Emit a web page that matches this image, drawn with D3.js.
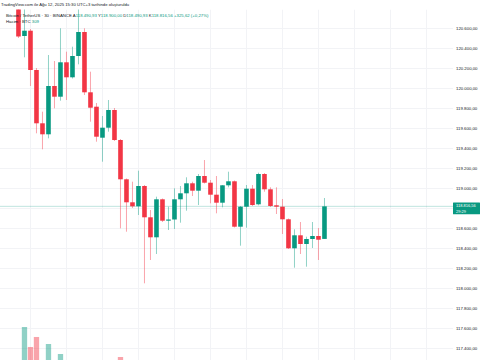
<!DOCTYPE html>
<html><head><meta charset="utf-8">
<script src="https://cdn.jsdelivr.net/npm/d3@7"></script>
<style>html,body{margin:0;padding:0;background:#fff;}svg{display:block;font-family:"Liberation Sans",Arial,sans-serif;}</style>
</head><body><svg id="c" width="485" height="360"></svg>
<script>
const opens  = [120880,120520,120573,120180,119647,119537,120020,119913,120257,120107,120320,120560,119957,119813,119503,119603,119780,119480,119087,118857,118817,119020,118707,118507,118887,118673,118685,118887,118947,119047,118973,119120,119053,118933,118853,119027,119067,118613,118813,118993,118837,119140,118987,118827,118813,118687,118397,118527,118440,118490,118520,118490.93];
const highs  = [120950,120830,120590,120200,119763,120330,120270,120597,120363,120413,120850,120597,120163,119850,119720,119880,119800,119490,119095,119063,119173,119030,118780,118913,118895,118813,118997,119020,119107,119063,119140,119280,119080,119120,119030,119163,119075,118820,119030,119030,119153,119150,119007,119007,118890,118695,118587,118660,118513,118660,118600,118900];
const lows   = [120500,120307,120020,119547,119387,119497,119797,119873,119880,120095,120237,119930,119663,119463,119263,119563,119470,118597,118563,118800,118730,118047,118280,118340,118660,118580,118590,118653,118773,118920,118830,119045,118847,118747,118807,119007,118605,118423,118603,118820,118827,118963,118810,118740,118540,118390,118203,118340,118213,118400,118280,118490.93];
const closes = [120515,120573,120180,119647,119537,120020,119913,120257,120107,120320,120560,119957,119803,119513,119603,119780,119480,119087,118857,118817,119020,118707,118507,118887,118673,118685,118887,118947,119047,118973,119120,119053,118933,118853,119027,119067,118613,118813,118993,118830,119140,118987,118820,118813,118687,118397,118527,118440,118490,118520,118483,118816.56];
const volumes = [320,1654,885,1270,340,1000,300,615,280,250,360,370,260,300,220,200,240,500,350,180,230,370,310,290,200,150,210,170,160,140,190,210,180,200,190,130,330,280,220,160,240,200,170,120,190,310,260,200,150,130,140,309];
const priceTicks = [117400,117600,117800,118000,118200,118400,118600,118800,119000,119200,119400,119600,119800,120000,120200,120400,120600];
const tickLabels = ["117.400,00","117.600,00","117.800,00","118.000,00","118.200,00","118.400,00","118.600,00","118.800,00","119.000,00","119.200,00","119.400,00","119.600,00","119.800,00","120.000,00","120.200,00","120.400,00","120.600,00"];
const timeGridIdx = [2,8,14,20,26,32,38,44,50,56,62,68];
const lastPrice = 118816.56;
const lastPriceLabel = "118.816,56";
const countdown = "29:29";
const headerText = "TradingView.com ile Ağu 12, 2025 15:30 UTC+3 tarihinde oluşturuldu";
const legendTitle = "Bitcoin / TetherUS · 30 · BINANCE";
const legendOHLC = [["A","118.490,93"],["Y","118.900,00"],["D","118.490,93"],["K","118.816,56"]];
const legendChange = "+325,62 (+0,27%)";
const volTitle = "Hacim · BTC";
const volValue = "309";

const UP="#089981", DN="#F23645", TXT="#131722", GRID="#f2f3f6";
const svg = d3.select("#c");
const plotR=453, plotT=9.5, H=360;

const x = d3.scaleLinear().domain([-3.08, 72.42]).range([0, plotR]);
const y = d3.scaleLinear().domain([117400, 120600]).range([348, 28]);
const yv = d3.scaleLinear().domain([0, 2000]).range([370, 318]);

svg.append("defs").append("clipPath").attr("id","pane").append("rect")
  .attr("x",0).attr("y",plotT).attr("width",plotR).attr("height",H-plotT);

const pane = svg.append("g").attr("clip-path","url(#pane)");
pane.selectAll("line.hg").data(priceTicks).join("line")
  .attr("x1",0).attr("x2",plotR).attr("y1",d=>Math.round(y(d))+0.5).attr("y2",d=>Math.round(y(d))+0.5)
  .attr("stroke",GRID).attr("stroke-width",1);
pane.selectAll("line.vg").data(timeGridIdx).join("line")
  .attr("y1",plotT).attr("y2",H).attr("x1",d=>Math.round(x(d))+0.5).attr("x2",d=>Math.round(x(d))+0.5)
  .attr("stroke",GRID).attr("stroke-width",1);

const idx = d3.range(opens.length);
pane.selectAll("rect.v").data(idx).join("rect")
  .attr("x",i=>x(i)-2.65).attr("width",5.3)
  .attr("y",i=>yv(volumes[i])).attr("height",i=>yv(0)-yv(volumes[i]))
  .attr("fill",i=>closes[i]>=opens[i]?UP:DN).attr("opacity",0.45);

pane.append("line").attr("x1",0).attr("x2",plotR).attr("y1",y(lastPrice)).attr("y2",y(lastPrice))
  .attr("stroke",UP).attr("stroke-opacity",0.25).attr("stroke-width",1);

pane.selectAll("line.w").data(idx).join("line")
  .attr("x1",i=>x(i)).attr("x2",i=>x(i)).attr("y1",i=>y(highs[i])).attr("y2",i=>y(lows[i]))
  .attr("stroke",i=>closes[i]>=opens[i]?UP:DN).attr("stroke-opacity",0.45).attr("stroke-width",1);
pane.selectAll("rect.b").data(idx).join("rect")
  .attr("x",i=>x(i)-2.3).attr("width",4.6)
  .attr("y",i=>y(Math.max(opens[i],closes[i])))
  .attr("height",i=>Math.max(1,Math.abs(y(opens[i])-y(closes[i]))))
  .attr("fill",i=>closes[i]>=opens[i]?UP:DN);

const fs=4.3;
const py=y(lastPrice);
// tick labels hidden behind the last-price marker are not drawn (as in the reference)
const shown = priceTicks.map((d,i)=>i).filter(i=>Math.abs(y(priceTicks[i])-py)>9);
svg.selectAll("text.yl").data(shown).join("text")
  .attr("x",456).attr("y",i=>y(priceTicks[i])).attr("dy","0.35em")
  .attr("font-size",fs).attr("fill",TXT).text(i=>tickLabels[i]);

svg.append("rect").attr("x",453).attr("y",py-3.8).attr("width",27).attr("height",11.6).attr("fill",UP).attr("rx",0.5);
svg.append("text").attr("x",456).attr("y",py-1).attr("dy","0.35em").attr("font-size",4).attr("fill","#fff").text(lastPriceLabel);
svg.append("text").attr("x",456).attr("y",py+4.8).attr("dy","0.35em").attr("font-size",4).attr("fill","#fff").text(countdown);

svg.append("text").attr("x",1).attr("y",5).attr("dy","0.35em").attr("font-size",4.2).attr("fill",TXT).text(headerText);
const l2 = svg.append("text").attr("x",6).attr("y",15).attr("dy","0.35em").attr("font-size",fs).attr("fill",TXT);
l2.append("tspan").text(legendTitle+"  ");
legendOHLC.forEach(([k,v])=>{
  l2.append("tspan").attr("fill",TXT).text(k);
  l2.append("tspan").attr("fill",UP).text(v+" ");
});
l2.append("tspan").attr("fill",UP).text(legendChange);
const l3 = svg.append("text").attr("x",6).attr("y",21).attr("dy","0.35em").attr("font-size",fs).attr("fill",TXT);
l3.append("tspan").text(volTitle+"  ");
l3.append("tspan").attr("fill",UP).text(volValue);
</script></body></html>
